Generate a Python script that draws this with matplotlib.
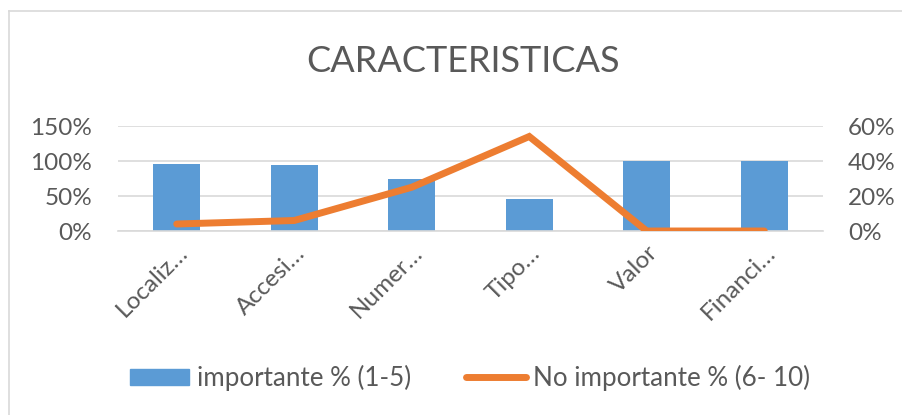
import matplotlib
matplotlib.use("Agg")
import matplotlib.pyplot as plt
from matplotlib.ticker import PercentFormatter
from matplotlib.lines import Line2D
from matplotlib.patches import Patch

categories = ["Localiz…", "Accesi…", "Numer…", "Tipo…", "Valor", "Financi…"]
importante = [0.96, 0.94, 0.75, 0.46, 1.00, 1.00]
no_importante = [0.04, 0.06, 0.25, 0.54, 0.00, 0.00]
left_ticks = [0, 0.5, 1.0, 1.5]
right_ticks = [0, 0.2, 0.4, 0.6]

plt.rcParams['font.family'] = ['Lato', 'DejaVu Sans']
TXT = '#595959'
BLUE = '#5B9BD5'
ORANGE = '#ED7D31'
GRID = '#D9D9D9'
FS = 17.5

W, H = 903, 415
fig = plt.figure(figsize=(W/100, H/100), dpi=100)

# chart border (top and left visible)
fig.add_artist(Line2D([9/W, 1.0], [1-11/H, 1-11/H], color='#D9D9D9', lw=1.2))
fig.add_artist(Line2D([9/W, 9/W], [0, 1-11/H], color='#D9D9D9', lw=1.2))

ax = fig.add_axes([118/W, 1-231/H, 705/W, 105/H])
x = list(range(len(categories)))
ax.bar(x, importante, width=0.40, color=BLUE, zorder=2)
ax.set_xlim(-0.5, len(categories)-0.5)
ax.set_ylim(0, 1.5)
ax.set_yticks(left_ticks)
ax.yaxis.set_major_formatter(PercentFormatter(1.0, decimals=0))
ax.grid(axis='y', color=GRID, lw=1.2, zorder=0)
ax.set_axisbelow(True)
for s in ax.spines.values():
    s.set_visible(False)
ax.spines['bottom'].set_visible(True)
ax.spines['bottom'].set_color(GRID)
ax.spines['bottom'].set_linewidth(1.2)
ax.tick_params(axis='both', length=0, colors=TXT, labelsize=FS)
ax.tick_params(axis='y', pad=18.5)
ax.set_xticks(x)
ax.set_xticklabels(categories, rotation=45, ha='right', rotation_mode='anchor', fontsize=FS, color=TXT)
ax.tick_params(axis='x', pad=8)

ax2 = ax.twinx()
ax2.plot(x, no_importante, color=ORANGE, lw=5, solid_capstyle='round', solid_joinstyle='miter', zorder=3)
ax2.set_ylim(0, 0.6)
ax2.set_yticks(right_ticks)
ax2.yaxis.set_major_formatter(PercentFormatter(1.0, decimals=0))
for s in ax2.spines.values():
    s.set_visible(False)
ax2.tick_params(axis='y', length=0, colors=TXT, labelsize=FS, pad=18)

fig.text(463/W, 1-62/H, "CARACTERISTICAS", ha='center', va='center', fontsize=26, color=TXT)

handles = [Patch(facecolor=BLUE, edgecolor=BLUE),
           Line2D([0], [0], color=ORANGE, lw=5, solid_capstyle='round')]
fig.legend(handles, ["importante % (1-5)", "No importante % (6- 10)"], loc='center',
           bbox_to_anchor=(470/W, 1-378/H), ncol=2, frameon=False, fontsize=18.7,
           labelcolor=TXT, handlelength=2.3, handleheight=0.6, handletextpad=0.3,
           columnspacing=2.1)

fig.savefig("out.png", dpi=100)
